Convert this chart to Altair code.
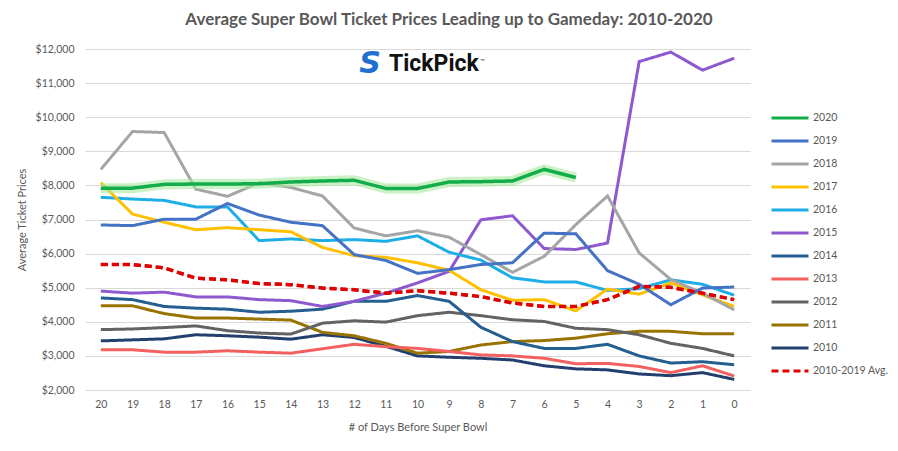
import altair as alt
import pandas as pd

days = list(range(20, -1, -1))

series_order = ["2020", "2019", "2018", "2017", "2016", "2015", "2014",
                "2013", "2012", "2011", "2010", "2010-2019 Avg."]
series_colors = ["#12AD4B", "#4472C4", "#A5A5A5", "#FFC000", "#1DAEE8", "#8E59CF",
                 "#255E91", "#F2615F", "#636363", "#997300", "#233F6E", "#E00000"]

v2020 = [7920, 7920, 8030, 8040, 8040, 8050, 8100, 8130, 8150, 7910, 7910, 8100,
         8110, 8130, 8470, 8230]
v2019 = [6840, 6820, 7010, 7010, 7470, 7130, 6920, 6820, 5970, 5800, 5420, 5530,
         5680, 5730, 6600, 6580, 5500, 5100, 4500, 4990, 5020]
v2018 = [8470, 9580, 9550, 7890, 7680, 8080, 7940, 7690, 6750, 6520, 6670, 6480,
         5970, 5450, 5920, 6850, 7690, 6020, 5240, 4840, 4350]
v2017 = [8080, 7160, 6920, 6700, 6760, 6700, 6640, 6180, 5940, 5890, 5730, 5510,
         4940, 4630, 4650, 4320, 4960, 4810, 5140, 4790, 4450]
v2016 = [7650, 7600, 7560, 7370, 7370, 6380, 6430, 6380, 6410, 6360, 6520, 6040,
         5810, 5290, 5170, 5170, 4920, 4970, 5230, 5100, 4780]
v2015 = [4900, 4840, 4870, 4730, 4730, 4650, 4620, 4450, 4600, 4840, 5140, 5480,
         6990, 7110, 6150, 6120, 6310, 11630, 11910, 11380, 11730]
v2014 = [4700, 4650, 4450, 4400, 4370, 4280, 4310, 4370, 4600, 4600, 4770, 4600,
         3840, 3420, 3220, 3220, 3340, 3000, 2790, 2830, 2740]
v2013 = [3180, 3180, 3110, 3110, 3150, 3110, 3080, 3210, 3340, 3270, 3220, 3130,
         3030, 3000, 2930, 2770, 2780, 2690, 2510, 2710, 2410]
v2012 = [3770, 3790, 3830, 3880, 3740, 3670, 3640, 3960, 4030, 3990, 4180, 4280,
         4180, 4060, 4010, 3810, 3770, 3620, 3370, 3220, 3000]
v2011 = [4470, 4470, 4240, 4110, 4110, 4080, 4050, 3690, 3590, 3370, 3080, 3130,
         3320, 3420, 3450, 3520, 3650, 3720, 3720, 3650, 3650]
v2010 = [3440, 3470, 3500, 3620, 3590, 3550, 3490, 3620, 3540, 3280, 3000, 2960,
         2930, 2880, 2710, 2620, 2590, 2470, 2420, 2510, 2310]
vavg = [5680, 5680, 5580, 5280, 5230, 5120, 5090, 4990, 4940, 4840, 4910, 4840,
        4740, 4550, 4450, 4450, 4650, 5040, 5010, 4840, 4650]

title_text = "Average Super Bowl Ticket Prices Leading up to Gameday: 2010-2020"
y_ticks = list(range(2000, 12001, 1000))

other = [("2010", v2010), ("2011", v2011), ("2012", v2012), ("2013", v2013),
         ("2014", v2014), ("2015", v2015), ("2016", v2016), ("2017", v2017),
         ("2018", v2018), ("2019", v2019), ("2010-2019 Avg.", vavg)]
rows = []
for name, vals in other:
    for d, v in zip(days, vals):
        rows.append({"series": name, "day": d, "price": v})
df_main = pd.DataFrame(rows)
df_2020 = pd.DataFrame({"series": "2020", "day": days[:len(v2020)], "price": v2020})

FONT = "Lato"
GREY = "#595959"
LBL = 10.5
dashes = [[1, 0]] * 11 + [[7, 4]]

x_enc = alt.X("day:O", sort="descending",
              scale=alt.Scale(type="point", padding=0.5),
              axis=alt.Axis(title="# of Days Before Super Bowl", labelAngle=0,
                            ticks=False, domain=False, grid=False,
                            labelPadding=9, labelFontSize=LBL, labelColor=GREY,
                            labelFont=FONT, titleFont=FONT, titleFontSize=11,
                            titleColor=GREY, titleFontWeight="normal",
                            titleY=37, titleBaseline="middle"))
y_enc = alt.Y("price:Q", scale=alt.Scale(domain=[2000, 12000]),
              axis=alt.Axis(title="Average Ticket Prices", values=y_ticks,
                            format="$,.0f", ticks=False, domain=False,
                            grid=True, gridColor="#D9D9D9", gridWidth=1,
                            labelPadding=11, labelFontSize=LBL, labelColor=GREY,
                            labelFont=FONT, titleFont=FONT, titleFontSize=11,
                            titleColor=GREY, titleFontWeight="normal",
                            titleX=-63, titleY=170.5, titleAngle=270,
                            titleAlign="center", titleBaseline="middle"))

legend_props = dict(title=None, orient="none", legendX=685, legendY=58.95,
                    symbolType="stroke", symbolSize=1369, symbolStrokeWidth=3,
                    labelFont=FONT, labelFontSize=LBL, labelColor=GREY,
                    clipHeight=20.1, rowPadding=2, labelOffset=3)
color_enc = alt.Color("series:N",
                      scale=alt.Scale(domain=series_order, range=series_colors),
                      legend=alt.Legend(**legend_props))
dash_enc = alt.StrokeDash("series:N",
                          scale=alt.Scale(domain=series_order, range=dashes),
                          legend=alt.Legend(**legend_props))

main = alt.Chart(df_main).mark_line(strokeWidth=3).encode(
    x=x_enc, y=y_enc, color=color_enc, strokeDash=dash_enc, detail="series:N")
main_avg_width = alt.Chart(df_main[df_main.series == "2010-2019 Avg."]).mark_line(
    strokeWidth=3.5, strokeDash=[7, 4], color="#E00000").encode(x=x_enc, y=y_enc)

glow = alt.Chart(df_2020).mark_line(strokeWidth=10, color="#A8EA9C", opacity=0.6).encode(
    x=x_enc, y=y_enc)
line2020 = alt.Chart(df_2020).mark_line(strokeWidth=3.5).encode(
    x=x_enc, y=y_enc, color=color_enc, strokeDash=dash_enc)

title_df = pd.DataFrame({"t": [title_text]})
title = alt.Chart(title_df).mark_text(font=FONT, fontSize=17, fontWeight="bold",
                                      color=GREY, align="center", baseline="middle").encode(
    x=alt.value(364), y=alt.value(-29), text="t:N")

logo_df = pd.DataFrame({"t": ["TickPick"], "s": ["S"], "tm": ["™"]})
logo_text = alt.Chart(logo_df).mark_text(font="Roboto", fontSize=23, fontWeight="bold",
                                         color="#111111", align="left", baseline="middle").encode(
    x=alt.value(304), y=alt.value(15), text="t:N")
logo_icon = alt.Chart(logo_df).mark_text(font="DejaVu Sans", fontSize=30, fontWeight="bold",
                                         fontStyle="italic", color="#1F6FD1", align="center",
                                         baseline="middle").encode(
    x=alt.value(285), y=alt.value(15), text="s:N")
logo_tm = alt.Chart(logo_df).mark_text(font=FONT, fontSize=6, color="#333333",
                                       align="left", baseline="middle").encode(
    x=alt.value(395), y=alt.value(12), text="tm:N")

chart = alt.layer(main, main_avg_width, glow, line2020, title, logo_icon, logo_text, logo_tm).properties(
    width=665, height=341,
    autosize=alt.AutoSizeParams(type="none"),
    padding={"left": 77, "top": 41, "right": 140, "bottom": 53},
    background="white",
).configure_view(stroke=None)

chart.save("out.html", embed_options={"renderer": "svg", "actions": False})
